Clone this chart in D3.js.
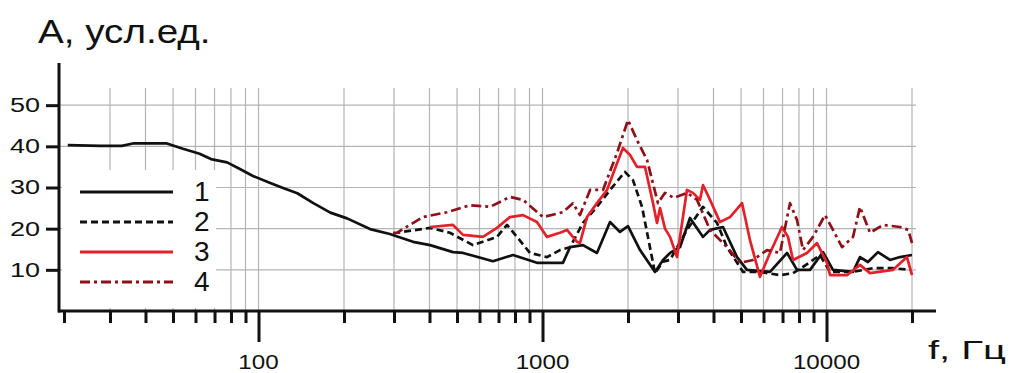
<!DOCTYPE html>
<html>
<head>
<meta charset="utf-8">
<script src="https://cdn.jsdelivr.net/npm/d3@7"></script>
<style>
  body { margin: 0; background: #fff; }
  svg { display: block; font-family: "Liberation Sans", Arial, sans-serif; }
</style>
</head>
<body>
<div id="chart"></div>
<script>
// curve 1 - solid black
const f1 = [21.3, 27.7, 33, 36.1, 47.6, 54.2, 62, 68, 77.5, 86, 95.6, 110, 122, 137, 156, 179, 205, 247, 290, 350, 402, 484,
  525, 669, 787, 956, 1180, 1250, 1388, 1555, 1729, 1874, 2000, 2205, 2490, 2657, 2812, 3048, 3306, 3674,
  3889, 4320, 4841, 5248, 6325, 7262, 7872, 8746, 9722, 10539, 12398, 13118, 13998, 15175, 16734, 18148, 20000];
const a1 = [40.3, 40.1, 40.1, 40.7, 40.7, 39.4, 38.2, 36.9, 36.1, 34.5, 32.8, 31.1, 29.9, 28.6, 26.2, 23.9, 22.5, 19.9, 18.7, 16.8, 16, 14.3,
  14.1, 12.1, 13.6, 11.7, 11.7, 15.5, 16, 14.1, 21.6, 19.2, 20.6, 14.8, 9.5, 12.4, 14.1, 15.5, 22.6, 18,
  19.7, 20.4, 13.1, 10, 9.5, 14.1, 10, 10, 14.3, 10, 9.5, 13.1, 11.9, 14.3, 12.4, 13.1, 13.6];

// curve 2 - dashed black
const f2 = [298, 307, 402, 472, 569, 691, 750, 813, 903, 1037, 1152, 1250, 1388, 1555, 1729, 1951, 2082, 2241,
  2490, 2657, 2812, 3226, 3674, 4116, 4464, 5083, 5830, 6857, 7621, 8265, 9486, 10290, 12398, 14580, 17150, 19700];
const a2 = [18.9, 19, 20.2, 19, 16, 18, 20.9, 18, 14.1, 13.1, 14.8, 15.5, 21.4, 25.3, 29.4, 33.8, 31.8, 25.3,
  9.2, 12, 12.4, 19.7, 25.3, 21.4, 15.5, 9.5, 9.5, 8.7, 9.2, 10.7, 13.6, 9.5, 9.5, 10.4, 10.4, 10];

// curve 3 - red
const f3 = [402, 484, 525, 617, 691, 768, 854, 956, 1037, 1152, 1220, 1323, 1355, 1434, 1555, 1687, 1830, 1920,
  2033, 2152, 2296, 2450, 2530, 2593, 2700, 2812, 2976, 3226, 3388, 3586, 3674, 3889, 4217, 4574, 5041, 5378,
  5830, 6325, 6970, 7318, 7621, 8537, 9258, 10040, 10290, 11806, 13118, 14228, 17150, 19200, 20000];
const a3 = [20.4, 20.9, 18.5, 18, 20.2, 22.8, 23.3, 21.6, 18, 19, 19.7, 16.8, 16.5, 22.8, 26.2, 29.4, 35.9, 39.6,
  37.9, 35, 35, 26.2, 21.4, 25, 20, 18, 13.1, 29.4, 28.7, 27, 30.6, 27, 21.6, 22.8, 26.2, 17.2,
  8.3, 14.1, 20.4, 18, 12.4, 14.1, 16.5, 11.7, 8.7, 8.7, 11.2, 9.2, 10, 13.1, 8.7];

// curve 4 - dark red dash-dot
const f4 = [298, 307, 379, 461, 556, 653, 768, 854, 1004, 1180, 1280, 1355, 1470, 1633, 1830, 2000, 2152, 2334,
  2550, 2700, 2900, 3226, 3500, 3889, 4464, 4960, 5510, 6170, 6857, 7438, 7872, 8265, 8962, 9880, 10539, 11340,
  12398, 13118, 14228, 15812, 18148, 19400, 20000];
const a4 = [18.9, 19, 22.8, 24, 25.7, 25.3, 27.7, 27, 22.8, 24, 26.2, 23.3, 29.4, 29.4, 38.4, 46.4, 41.5, 36.7,
  26.2, 28.7, 27.5, 28.7, 27, 19.7, 15.5, 11.7, 12.4, 14.8, 14.1, 26.2, 22.1, 14.8, 18, 23.3, 19.7, 15.5,
  18, 25.3, 19, 20.9, 20.4, 19.7, 16.5];

const yTicks = [10, 20, 30, 40, 50];
const xLabels = [100, 1000, 10000];
const legendLabels = ["1", "2", "3", "4"];

const width = 1011, height = 373;

const svg = d3.select("#chart").append("svg")
  .attr("width", width)
  .attr("height", height);

const x = d3.scaleLog().domain([20, 20000]).range([60, 912]);
const y = d3.scaleLinear().domain([0, 60]).range([311, 64]);

// stretch text horizontally like the original
function stretch(sel, k) {
  sel.each(function () {
    const w = this.getComputedTextLength();
    d3.select(this).attr("textLength", w * k).attr("lengthAdjust", "spacingAndGlyphs");
  });
}

// grid
const grid = svg.append("g").attr("stroke", "#b4b4b4").attr("stroke-width", 1.2);
grid.selectAll(".gv")
  .data(x.ticks().filter(d => d > 20))
  .join("line")
  .attr("x1", d => x(d)).attr("x2", d => x(d))
  .attr("y1", y(54.2)).attr("y2", y(0));
grid.selectAll(".gh")
  .data(yTicks)
  .join("line")
  .attr("x1", 59).attr("x2", 916)
  .attr("y1", d => y(d)).attr("y2", d => y(d));

// legend background covers the grid
svg.append("rect")
  .attr("x", 62).attr("y", 170)
  .attr("width", 154).attr("height", 138)
  .attr("fill", "#fff");

// curves
const series = [
  { f: f1, a: a1, color: "#111", dash: null },
  { f: f2, a: a2, color: "#111", dash: "7,4" },
  { f: f3, a: a3, color: "#e4202a", dash: null },
  { f: f4, a: a4, color: "#8e1018", dash: "10,4,3,4" }
];

const line = d3.line()
  .x(d => x(d[0]))
  .y(d => y(d[1]));

svg.append("g")
  .selectAll("path")
  .data(series)
  .join("path")
  .attr("fill", "none")
  .attr("stroke", d => d.color)
  .attr("stroke-width", 2.7)
  .attr("stroke-linejoin", "round")
  .attr("stroke-dasharray", d => d.dash)
  .attr("d", d => line(d.f.map((v, i) => [v, d.a[i]])));

// x axis
const xAxis = svg.append("g")
  .attr("transform", `translate(0,${y(0)})`)
  .call(d3.axisBottom(x).tickValues(x.ticks()).tickSize(12).tickSizeOuter(0).tickFormat(""));
xAxis.select(".domain").remove();
xAxis.selectAll(".tick line")
  .attr("stroke", "#111")
  .attr("stroke-width", 3)
  .attr("x1", d => d === 20 ? 4 : 0)
  .attr("x2", d => d === 20 ? 4 : 0)
  .attr("y2", d => xLabels.includes(d) ? 31 : 12);
svg.append("line")
  .attr("x1", 58).attr("x2", 936)
  .attr("y1", y(0)).attr("y2", y(0))
  .attr("stroke", "#111").attr("stroke-width", 3);

svg.append("g")
  .selectAll("text")
  .data(xLabels)
  .join("text")
  .attr("x", d => x(d))
  .attr("y", 369)
  .attr("text-anchor", "middle")
  .attr("font-size", 21)
  .attr("fill", "#111")
  .text(d => d)
  .call(stretch, 1.15);

// y axis
const yAxis = svg.append("g")
  .attr("transform", "translate(59,0)")
  .call(d3.axisLeft(y).tickValues(yTicks).tickSize(13).tickPadding(6).tickSizeOuter(0));
yAxis.select(".domain").remove();
yAxis.selectAll(".tick line").attr("stroke", "#111").attr("stroke-width", 3);
yAxis.selectAll(".tick text")
  .attr("font-size", 20)
  .attr("fill", "#111")
  .attr("font-family", "Liberation Sans, Arial, sans-serif")
  .call(stretch, 1.35);
svg.append("line")
  .attr("x1", 59).attr("x2", 59)
  .attr("y1", 63).attr("y2", y(0) + 1.5)
  .attr("stroke", "#111").attr("stroke-width", 3);

// axis titles
svg.append("text")
  .attr("x", 38).attr("y", 43)
  .attr("font-size", 33)
  .attr("fill", "#111")
  .text("A, усл.ед.")
  .call(stretch, 1.17);

svg.append("text")
  .attr("x", 928).attr("y", 359)
  .attr("font-size", 25)
  .attr("fill", "#111")
  .text("f, Гц")
  .attr("textLength", 78)
  .attr("lengthAdjust", "spacingAndGlyphs");

// legend
const legend = svg.append("g")
  .selectAll("g")
  .data(series)
  .join("g")
  .attr("transform", (d, i) => `translate(0,${192 + i * 30})`);
legend.append("line")
  .attr("x1", 80).attr("x2", 173)
  .attr("stroke", d => d.color)
  .attr("stroke-width", 3)
  .attr("stroke-dasharray", d => d.dash);
legend.append("text")
  .attr("x", 194).attr("y", 9)
  .attr("font-size", 28)
  .attr("fill", "#111")
  .text((d, i) => legendLabels[i]);
</script>
</body>
</html>
